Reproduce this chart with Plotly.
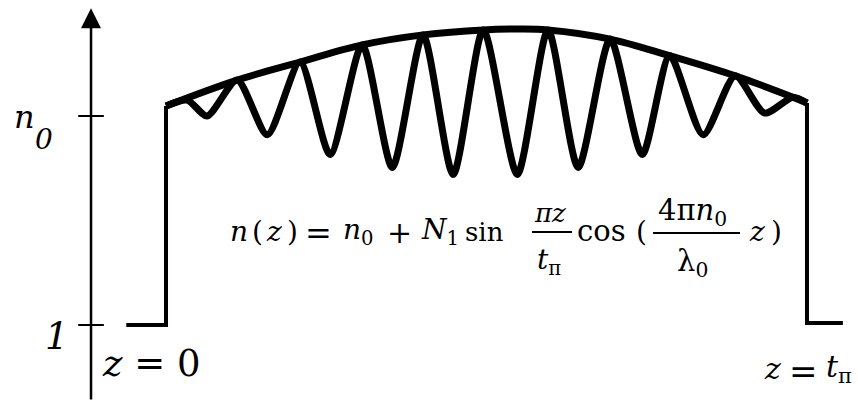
import plotly.graph_objects as go

# ---------------- data ----------------
# normalised position z (0 = front face, 1 = back face, t_pi) and index n (1 = outside, n0 = 1.5 nominal)
z_wave = [0.000, 0.033, 0.064, 0.111, 0.158, 0.209, 0.256, 0.306, 0.353, 0.401, 0.448, 0.495,
          0.548, 0.596, 0.643, 0.693, 0.743, 0.786, 0.838, 0.888, 0.934, 0.978, 1.000]
n_wave = [1.524, 1.538, 1.500, 1.586, 1.455, 1.629, 1.408, 1.670, 1.377, 1.694, 1.360, 1.706,
          1.360, 1.706, 1.377, 1.684, 1.408, 1.644, 1.455, 1.596, 1.507, 1.545, 1.531]

z_env = [0.000, 0.111, 0.209, 0.306, 0.401, 0.495, 0.548, 0.596, 0.693, 0.786, 0.888, 0.978, 1.000]
n_env = [1.524, 1.586, 1.629, 1.670, 1.694, 1.706, 1.708, 1.706, 1.684, 1.644, 1.596, 1.545, 1.531]

z_step_left = [-0.062, 0.000, 0.000]
n_step_left = [1.000, 1.000, 1.524]
z_step_right = [1.000, 1.000, 1.056]
n_step_right = [1.531, 1.005, 1.005]

axis_z = -0.117
axis_n_bottom = 0.818
axis_n_top = 1.758
tick_values = [1.0, 1.5]          # "1" and "n0"
tick_half_len = 0.020            # in z units

X_RANGE = [-0.259, 1.0796]
Y_RANGE = [0.811, 1.7775]

W, H = 858, 404
FONT = "DejaVu Serif"

fig = go.Figure()

fig.add_trace(go.Scatter(x=z_step_left, y=n_step_left, mode="lines",
                         line=dict(color="black", width=4), hoverinfo="skip"))
fig.add_trace(go.Scatter(x=z_step_right, y=n_step_right, mode="lines",
                         line=dict(color="black", width=4), hoverinfo="skip"))
fig.add_trace(go.Scatter(x=z_wave, y=n_wave, mode="lines",
                         line=dict(color="black", width=7, shape="spline", smoothing=0.7),
                         hoverinfo="skip"))
fig.add_trace(go.Scatter(x=z_env, y=n_env, mode="lines",
                         line=dict(color="black", width=7, shape="spline", smoothing=1.0),
                         hoverinfo="skip"))

# vertical axis with arrow
fig.add_annotation(x=axis_z, y=axis_n_top, ax=axis_z, ay=axis_n_bottom,
                   xref="x", yref="y", axref="x", ayref="y", text="",
                   showarrow=True, arrowhead=2, arrowsize=1.6, arrowwidth=2.5,
                   arrowcolor="black", standoff=0, startstandoff=0)

shapes = []
for tv in tick_values:
    shapes.append(dict(type="line", xref="x", yref="y",
                       x0=axis_z - tick_half_len, x1=axis_z + tick_half_len, y0=tv, y1=tv,
                       line=dict(color="black", width=2)))


def px(x):
    return x / W


def py(y):
    return 1 - y / H


def put(text, cx, baseline, size):
    fig.add_annotation(text=text, x=px(cx), y=py(baseline - 0.30 * size),
                       xref="paper", yref="paper", showarrow=False,
                       xanchor="center", yanchor="middle",
                       font=dict(family=FONT, size=size, color="black"))


# axis labels
put("<i>n</i>", 24, 127, 32)
put("<i>0</i>", 44, 148, 28)
put("<i>1</i>", 57, 348, 37)
put("<i>z</i> = 0", 151, 375, 37)
put("<i>z</i>", 772, 377, 30)
put("=", 803, 381, 34)
put("<i>t</i><sub>π</sub>", 839, 377, 30)

# formula
pieces = [
    ("<i>n</i>", 239, 240, 28),
    ("(", 257, 240, 28),
    ("<i>z</i>", 274, 240, 28),
    (")", 292, 240, 28),
    ("=", 318, 243, 32),
    ("<i>n</i><sub>0</sub>", 358, 240, 28),
    ("+", 399, 242, 30),
    ("<i>N</i><sub>1</sub>", 440, 240, 28),
    ("sin", 484, 240, 26),
    ("<i>πz</i>", 550, 221, 26),
    ("<i>t</i><sub>π</sub>", 549, 270, 28),
    ("cos", 601, 240, 29),
    ("(", 641, 240, 28),
    ("4π<i>n</i><sub>0</sub>", 692, 221, 29),
    ("λ<sub>0</sub>", 692, 272, 29),
    ("<i>z</i>", 757, 240, 28),
    (")", 776, 240, 28),
]
for t, cx, bl, s in pieces:
    put(t, cx, bl, s)

for x0, x1, y in [(532, 572, 232), (653, 740, 233)]:
    shapes.append(dict(type="line", xref="paper", yref="paper",
                       x0=px(x0), x1=px(x1), y0=py(y), y1=py(y),
                       line=dict(color="black", width=2)))

fig.update_layout(
    width=W, height=H, margin=dict(l=0, r=0, t=0, b=0),
    paper_bgcolor="white", plot_bgcolor="white", showlegend=False,
    xaxis=dict(range=X_RANGE, visible=False, fixedrange=True),
    yaxis=dict(range=Y_RANGE, visible=False, fixedrange=True),
    shapes=shapes,
)

fig.write_html("out.html", config={"displayModeBar": False},
               post_script="document.body.style.margin='0px';document.body.style.padding='0px';")
